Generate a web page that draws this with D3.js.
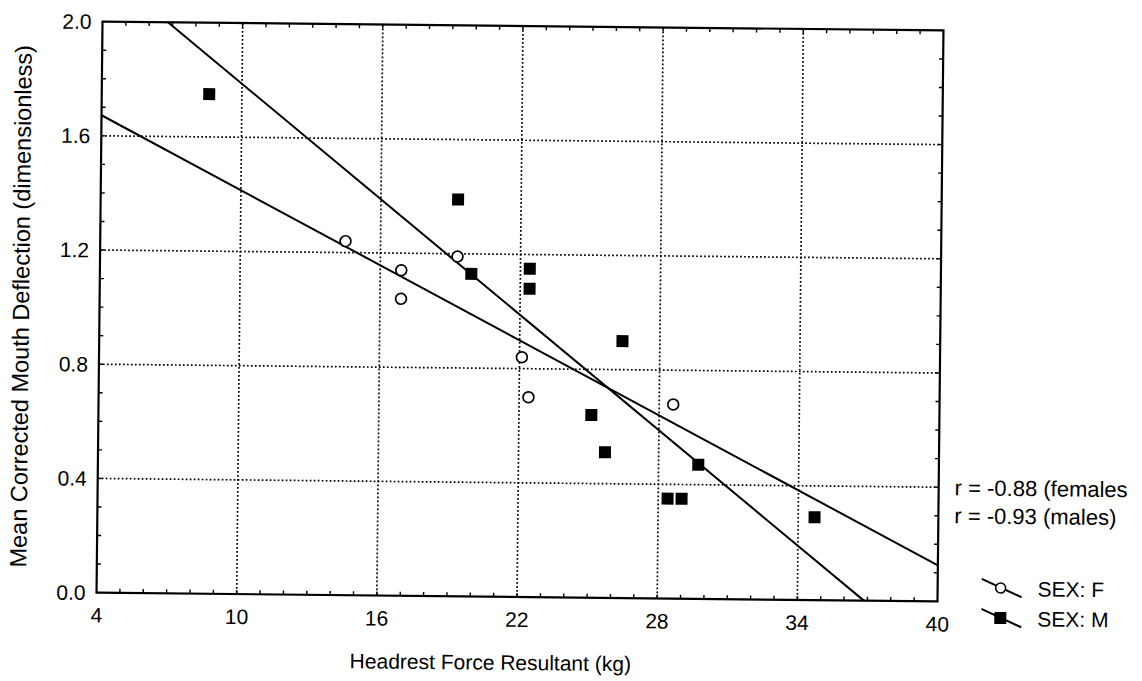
<!DOCTYPE html>
<html>
<head>
<meta charset="utf-8">
<script src="https://cdn.jsdelivr.net/npm/d3@7"></script>
<style>
  html, body { margin: 0; padding: 0; background: #fff; }
  svg { display: block; font-family: "Liberation Sans", Arial, sans-serif; }
</style>
</head>
<body>
<div id="chart"></div>
<script>
(function () {
  // values
  const xTicks = [4, 10, 16, 22, 28, 34, 40];
  const yTicks = [0.0, 0.4, 0.8, 1.2, 1.6, 2.0];

  const femaleForce = [14.5, 16.9, 16.9, 19.3, 22.1, 22.4, 28.6];
  const femaleDeflection = [1.24, 1.14, 1.04, 1.19, 0.84, 0.70, 0.68];

  const maleForce = [8.6, 19.3, 19.9, 22.4, 22.4, 26.4, 25.1, 25.7, 28.4, 29.0, 29.7, 34.7];
  const maleDeflection = [1.75, 1.39, 1.13, 1.15, 1.08, 0.90, 0.64, 0.51, 0.35, 0.35, 0.47, 0.29];

  // fitted lines, endpoints as drawn
  const femaleFitX = [4, 40];
  const femaleFitY = [1.672, 0.126];
  const maleFitX = [6.8, 36.85];
  const maleFitY = [2.0, 0.0];

  const rLabels = ['r = -0.88 (females', 'r = -0.93 (males)'];
  const legendLabels = ['SEX: F', 'SEX: M'];

  const W = 1142, H = 681;
  const margin = { top: 26, right: 201.5, bottom: 84, left: 99.5 };

  const svg = d3.select('#chart').append('svg')
    .attr('width', W)
    .attr('height', H);

  // the scan is tilted a little clockwise
  const g = svg.append('g').attr('transform', 'rotate(0.6, 520, 311.5)');

  const x = d3.scaleLinear().domain([4, 40]).range([margin.left, W - margin.right]);
  const y = d3.scaleLinear().domain([0, 2]).range([H - margin.bottom, margin.top]);

  const x0 = x.range()[0], x1 = x.range()[1];
  const y0 = y.range()[0], y1 = y.range()[1];

  // dotted grid
  const grid = g.append('g').attr('class', 'grid')
    .attr('stroke', '#000')
    .attr('stroke-width', 1.7)
    .attr('stroke-dasharray', '1.7,2.3');
  grid.selectAll('line.gx').data(xTicks.filter(d => d > 4 && d < 40)).enter()
    .append('line')
    .attr('x1', d => x(d)).attr('x2', d => x(d))
    .attr('y1', y1).attr('y2', y0);
  grid.selectAll('line.gy').data(yTicks.filter(d => d > 0 && d < 2)).enter()
    .append('line')
    .attr('x1', x0).attr('x2', x1)
    .attr('y1', d => y(d)).attr('y2', d => y(d));

  // minor ticks, pointing inward on all four sides
  const minorX = d3.range(5, 40, 1);
  const minorY = d3.range(1, 20, 1).map(d => d / 10);
  const ticks = g.append('g').attr('stroke', '#000').attr('stroke-width', 1.4);
  ticks.selectAll('line.bx').data(minorX).enter().append('line')
    .attr('x1', d => x(d)).attr('x2', d => x(d)).attr('y1', y0).attr('y2', y0 - 4);
  ticks.selectAll('line.tx').data(minorX).enter().append('line')
    .attr('x1', d => x(d)).attr('x2', d => x(d)).attr('y1', y1).attr('y2', y1 + 4);
  ticks.selectAll('line.ly').data(minorY).enter().append('line')
    .attr('x1', x0).attr('x2', x0 + 4).attr('y1', d => y(d)).attr('y2', d => y(d));
  ticks.selectAll('line.ry').data(minorY).enter().append('line')
    .attr('x1', x1).attr('x2', x1 - 4).attr('y1', d => y(d)).attr('y2', d => y(d));

  // frame
  g.append('rect')
    .attr('x', x0).attr('y', y1)
    .attr('width', x1 - x0).attr('height', y0 - y1)
    .attr('fill', 'none')
    .attr('stroke', '#000')
    .attr('stroke-width', 2.2);

  // tick labels
  g.append('g').selectAll('text').data(xTicks).enter().append('text')
    .attr('x', d => x(d))
    .attr('y', y0 + 30)
    .attr('text-anchor', 'middle')
    .attr('font-size', 21)
    .text(d => d);

  g.append('g').selectAll('text').data(yTicks).enter().append('text')
    .attr('x', x0 - 11)
    .attr('y', d => y(d) + 7.5)
    .attr('text-anchor', 'end')
    .attr('font-size', 21)
    .text(d => d.toFixed(1));

  // axis titles
  g.append('text')
    .attr('x', (x0 + x1) / 2 - 26)
    .attr('y', H - 11)
    .attr('text-anchor', 'middle')
    .attr('font-size', 21)
    .text('Headrest Force Resultant (kg)');

  g.append('text')
    .attr('transform', `translate(29,${(y0 + y1) / 2}) rotate(-90)`)
    .attr('text-anchor', 'middle')
    .attr('font-size', 23.5)
    .text('Mean Corrected Mouth Deflection (dimensionless)');

  // fitted lines
  const line = d3.line().x(d => x(d[0])).y(d => y(d[1]));
  g.append('path')
    .datum(d3.zip(femaleFitX, femaleFitY))
    .attr('d', line)
    .attr('fill', 'none').attr('stroke', '#000').attr('stroke-width', 2);
  g.append('path')
    .datum(d3.zip(maleFitX, maleFitY))
    .attr('d', line)
    .attr('fill', 'none').attr('stroke', '#000').attr('stroke-width', 2);

  // points
  const sq = 12;
  g.append('g').selectAll('rect').data(d3.zip(maleForce, maleDeflection)).enter()
    .append('rect')
    .attr('x', d => x(d[0]) - sq / 2)
    .attr('y', d => y(d[1]) - sq / 2)
    .attr('width', sq).attr('height', sq)
    .attr('fill', '#000');

  g.append('g').selectAll('circle').data(d3.zip(femaleForce, femaleDeflection)).enter()
    .append('circle')
    .attr('cx', d => x(d[0]))
    .attr('cy', d => y(d[1]))
    .attr('r', 5.4)
    .attr('fill', '#fff')
    .attr('stroke', '#000')
    .attr('stroke-width', 1.7);

  // r annotations
  g.append('g').selectAll('text').data(rLabels).enter().append('text')
    .attr('x', x1 + 16)
    .attr('y', (d, i) => y(0.4) + 8 + i * 28)
    .attr('font-size', 22)
    .text(d => d);

  // legend
  const leg = g.append('g').attr('transform', `translate(${x1 + 44},${y0 - 17})`);
  const items = leg.selectAll('g').data(legendLabels).enter().append('g')
    .attr('transform', (d, i) => `translate(0,${i * 30})`);
  items.append('line')
    .attr('x1', 0).attr('y1', -6).attr('x2', 40).attr('y2', 12)
    .attr('stroke', '#000').attr('stroke-width', 2);
  items.filter((d, i) => i === 0).append('circle')
    .attr('cx', 19).attr('cy', 3).attr('r', 5)
    .attr('fill', '#fff').attr('stroke', '#000').attr('stroke-width', 1.6);
  items.filter((d, i) => i === 1).append('rect')
    .attr('x', 13).attr('y', -3).attr('width', 12).attr('height', 12)
    .attr('fill', '#000');
  items.append('text')
    .attr('x', 56).attr('y', 11)
    .attr('font-size', 21)
    .text(d => d);
})();
</script>
</body>
</html>
